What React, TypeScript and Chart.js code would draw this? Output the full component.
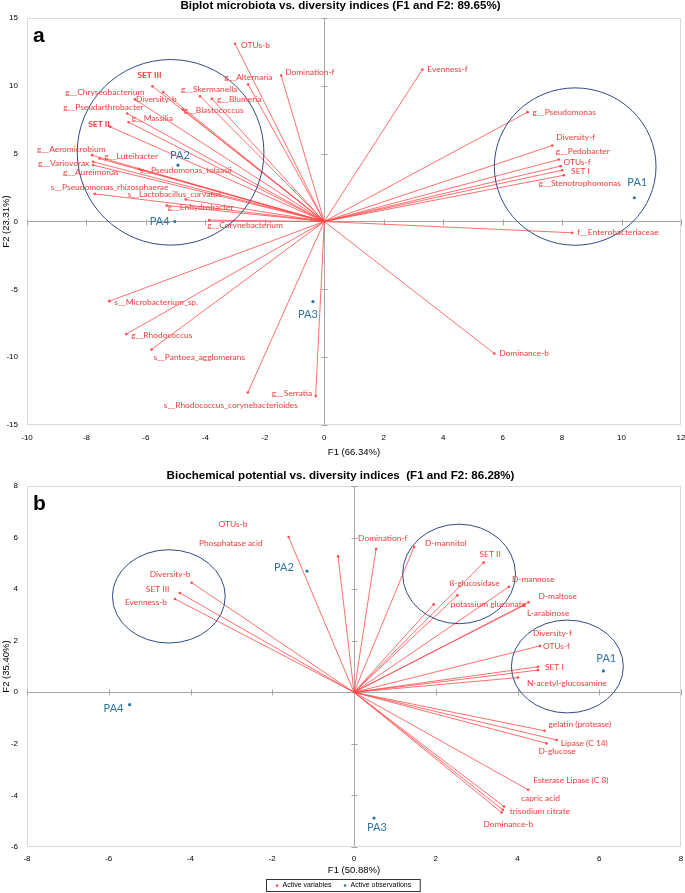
import React, { useEffect, useRef } from 'react';
import { Chart, registerables } from 'chart.js';

Chart.register(...registerables);

const AXIS_FONT = "'Liberation Sans', Arial, sans-serif";
const LABEL_FONT = "Lato, 'Noto Sans', sans-serif";
const RED_LINE = '#FF4A4A';
const RED_TEXT = '#EF3B3B';
const BLUE_OBS = '#2F74A2';
const CIRCLE_COLOR = '#2E4A87';

// ================= Panel a : microbiota =================
const aTitle = 'Biplot microbiota vs. diversity indices (F1 and F2: 89.65%)';
const aXTitle = 'F1 (66.34%)';
const aYTitle = 'F2 (23.31%)';
const aXRange = [-10, 12];
const aXStep = 2;
const aYRange = [-15, 15];
const aYStep = 5;

const aVarNames = [
  'OTUs-b', 'g__Alternaria', 'Domination-f', 'SET III', 'g__Chryseobacterium',
  'Diversity-b', 'g__Pseudarthrobacter', 'g__Massilia', 'SET II', 'g__Skermanella',
  'g__Blumeria', 'g__Blastococcus', 'g__Aeromicrobium', 'g__Variovorax', 'g__Aureimonas',
  'g__Luteibacter', 's__Pseudomonas_tolaasii', 's__Pseudomonas_rhizosphaerae',
  's__Lactobacillus_curvatus', 'g__Enhydrobacter', 'g__Corynebacterium',
  's__Microbacterium_sp.', 'g__Rhodococcus', 's__Pantoea_agglomerans', 'g__Serratia',
  's__Rhodococcus_corynebacterioides', 'Evenness-f', 'g__Pseudomonas', 'Diversity-f',
  'g__Pedobacter', 'OTUs-f', 'SET I', 'g__Stenotrophomonas', 'f__Enterobacteriaceae',
  'Dominance-b',
];
const aVarX = [
  -3.0, -2.56, -1.45, -5.78, -5.42,
  -6.37, -6.63, -6.58, -7.2, -4.18,
  -3.78, -4.76, -7.81, -7.78, -7.78,
  -7.56, -6.24, -7.72,
  -4.66, -5.3, -3.87,
  -7.23, -6.66, -5.81, -0.29,
  -2.57, 3.3, 6.84, 7.67,
  7.89, 7.95, 8.0, 8.06, 8.34,
  5.72,
];
const aVarY = [
  13.1, 10.1, 10.76, 9.97, 9.55,
  9.0, 7.96, 7.32, 6.98, 9.23,
  9.04, 8.25, 4.89, 4.4, 4.16,
  4.64, 3.88, 2.04,
  1.62, 1.18, 0.1,
  -5.87, -8.3, -9.43, -12.87,
  -12.6, 11.2, 8.06, 5.6,
  4.57, 4.08, 3.78, 3.41, -0.83,
  -9.73,
];
const aObsNames = ['PA1', 'PA2', 'PA3', 'PA4'];
const aObsX = [10.43, -4.92, -0.38, -5.03];
const aObsY = [1.75, 4.15, -5.9, 0.0];
// confidence circles: centre x, centre y, radius x, radius y (axis units)
const aEllipseCX = [-5.17, 8.44];
const aEllipseCY = [5.1, 4.05];
const aEllipseRX = [3.14, 2.72];
const aEllipseRY = [6.84, 5.8];

// label placement (pixel offsets from the point to the label's left/middle)
const aVarLabelDX = [
  6, -24, 4, -15, -98,
  1, -64, 3, -22, -19,
  5, 1, -55, -55, -30,
  5, 1, -44,
  -58, 1, -2,
  5, 5, 2, -44,
  -84, 5, 5, 4,
  -3, 3, 9, -25, 5,
  5,
];
const aVarLabelDY = [
  1, -7, -3, -11, 0,
  0, -6, -4, -3, -7,
  0, 1, -6, 1, 7,
  -2, 1, -7,
  -5, 2, 5,
  1, 1, 8, -3,
  13, 0, 0, -8,
  -8, -4, 1, 8, 0,
  0,
];
const aBoldLabels = ['SET III', 'SET II'];
const aObsLabelDX = [-7, -8, -15, -25];
const aObsLabelDY = [-15, -10, 13, 0];

// ================= Panel b : biochemical potential =================
const bTitle = 'Biochemical potential vs. diversity indices  (F1 and F2: 86.28%)';
const bXTitle = 'F1 (50.88%)';
const bYTitle = 'F2 (35.40%)';
const bXRange = [-8, 8];
const bXStep = 2;
const bYRange = [-6, 8];
const bYStep = 2;

const bVarNames = [
  'OTUs-b', 'Phosphatase acid', 'Domination-f', 'D-mannitol', 'SET II',
  'ß-glucosidase', 'potassium gluconate', 'D-mannose', 'D-maltose', 'L-arabinose',
  'Diversity-f', 'OTUs-f', 'SET I', 'N-acetyl-glucosamine', 'gelatin (protease)',
  'Lipase (C 14)', 'D-glucose', 'Esterase Lipase (C 8)', 'capric acid', 'trisodium citrate',
  'Dominance-b', 'Diversity-b', 'SET III', 'Evenness-b',
];
const bVarX = [
  -1.6, -0.39, 0.54, 1.47, 3.17,
  2.53, 1.95, 3.79, 4.27, 4.16,
  4.5, 4.55, 4.5, 4.01, 4.66,
  4.96, 4.71, 4.26, 3.67, 3.64,
  3.61, -3.97, -4.26, -4.38,
];
const bVarY = [
  6.02, 5.27, 5.56, 5.64, 5.03,
  3.76, 3.41, 4.09, 3.49, 3.37,
  0.99, 1.8, 0.86, 0.57, -1.49,
  -1.85, -1.98, -3.78, -4.43, -4.56,
  -4.66, 4.25, 3.85, 3.62,
];
const bObsNames = ['PA1', 'PA2', 'PA3', 'PA4'];
const bObsX = [6.1, -1.15, 0.49, -5.49];
const bObsY = [0.83, 4.7, -4.88, -0.48];
const bEllipseCX = [-4.53, 2.57, 5.22];
const bEllipseCY = [3.72, 4.59, 1.0];
const bEllipseRX = [1.38, 1.38, 1.37];
const bEllipseRY = [1.81, 1.93, 1.8];

const bVarLabelDX = [
  -70, -139, -18, 11, -4,
  -8, 17, 3, 10, 3,
  -5, 3, 7, 9, 4,
  4, -8, 5, 17, 7,
  -18, -42, -34, -50,
];
const bVarLabelDY = [
  -13, -13, -11, -4, -8,
  -12, 0, -8, -6, 8,
  -33, 0, -3, 6, -6,
  3, 8, -9, -8, 1,
  12, -8, -4, 3,
];
const bBoldLabels: string[] = [];
const bObsLabelDX = [-7, -33, -7, -26];
const bObsLabelDY = [-12, -4, 9, 4];

const legendNames = ['Active variables', 'Active observations'];

type Panel = {
  letter: string;
  title: string;
  xTitle: string;
  yTitle: string;
  xRange: number[];
  xStep: number;
  yRange: number[];
  yStep: number;
  varNames: string[];
  varX: number[];
  varY: number[];
  obsNames: string[];
  obsX: number[];
  obsY: number[];
  eCX: number[];
  eCY: number[];
  eRX: number[];
  eRY: number[];
  varDX: number[];
  varDY: number[];
  bold: string[];
  obsDX: number[];
  obsDY: number[];
  height: number;
  titlePad: { top: number; bottom: number };
  xAxisHeight: number;
  xTickPad: number;
  xTitlePadBottom: number;
  bottomPad: number;
  showLegend: boolean;
};

const decorPlugin = {
  id: 'biplotDecor',
  beforeDatasetsDraw(chart: any, _args: any, opts: any) {
    const { ctx, chartArea } = chart;
    const xs = chart.scales.x;
    const ys = chart.scales.y;
    ctx.save();
    // plot frame
    ctx.strokeStyle = '#D9D9D9';
    ctx.lineWidth = 1;
    ctx.strokeRect(chartArea.left + 0.5, chartArea.top + 0.5, chartArea.right - chartArea.left - 1, chartArea.bottom - chartArea.top - 1);
    // small tick marks on the zero axes
    const x0 = Math.round(xs.getPixelForValue(0)) + 0.5;
    const y0 = Math.round(ys.getPixelForValue(0)) + 0.5;
    ctx.strokeStyle = '#A6A6A6';
    ctx.beginPath();
    xs.ticks.forEach((t: any) => {
      if (t.value === 0) return;
      const px = Math.round(xs.getPixelForValue(t.value)) + 0.5;
      ctx.moveTo(px, y0 - 3);
      ctx.lineTo(px, y0 + 3);
    });
    ys.ticks.forEach((t: any) => {
      if (t.value === 0) return;
      const py = Math.round(ys.getPixelForValue(t.value)) + 0.5;
      ctx.moveTo(x0 - 3, py);
      ctx.lineTo(x0 + 3, py);
    });
    ctx.stroke();
    ctx.restore();
  },
  afterDatasetsDraw(chart: any, _args: any, opts: any) {
    const p: Panel = opts.panel;
    const { ctx, chartArea } = chart;
    const xs = chart.scales.x;
    const ys = chart.scales.y;
    ctx.save();
    // circles
    ctx.strokeStyle = CIRCLE_COLOR;
    ctx.lineWidth = 1;
    p.eCX.forEach((cx, i) => {
      const px = xs.getPixelForValue(cx);
      const py = ys.getPixelForValue(p.eCY[i]);
      const rx = Math.abs(xs.getPixelForValue(cx + p.eRX[i]) - px);
      const ry = Math.abs(ys.getPixelForValue(p.eCY[i] + p.eRY[i]) - py);
      ctx.beginPath();
      ctx.ellipse(px, py, rx, ry, 0, 0, Math.PI * 2);
      ctx.stroke();
    });
    // variable labels
    ctx.textBaseline = 'middle';
    ctx.textAlign = 'left';
    ctx.fillStyle = RED_TEXT;
    p.varNames.forEach((name, i) => {
      const px = xs.getPixelForValue(p.varX[i]);
      const py = ys.getPixelForValue(p.varY[i]);
      ctx.font = (p.bold.includes(name) ? 'bold ' : '') + '8.4px ' + LABEL_FONT;
      ctx.fillText(name, px + p.varDX[i], py + p.varDY[i]);
    });
    // observation labels
    ctx.fillStyle = BLUE_OBS;
    ctx.font = '11px ' + LABEL_FONT;
    p.obsNames.forEach((name, i) => {
      const px = xs.getPixelForValue(p.obsX[i]);
      const py = ys.getPixelForValue(p.obsY[i]);
      ctx.fillText(name, px + p.obsDX[i], py + p.obsDY[i]);
    });
    // panel letter
    ctx.fillStyle = '#000';
    ctx.font = 'bold 21px ' + AXIS_FONT;
    ctx.fillText(p.letter, chartArea.left + 6, chartArea.top + 18);
    ctx.restore();
  },
  afterDraw(chart: any, _args: any, opts: any) {
    const p: Panel = opts.panel;
    if (!p.showLegend) return;
    const { ctx } = chart;
    ctx.save();
    ctx.font = '7px ' + AXIS_FONT;
    ctx.textBaseline = 'middle';
    ctx.textAlign = 'left';
    const colors = [RED_LINE, BLUE_OBS];
    const widths = legendNames.map((t) => ctx.measureText(t).width);
    const itemW = widths.map((w) => 3 + 4 + w);
    const gap = 12;
    const padX = 9;
    const total = itemW[0] + itemW[1] + gap + padX * 2;
    const left = Math.round(chart.width / 2 - total / 2) + 0.5;
    const top = chart.height - 13.5;
    ctx.strokeStyle = '#333';
    ctx.lineWidth = 1;
    ctx.strokeRect(left, top, total, 12);
    let cx = left + padX;
    const cy = top + 6;
    legendNames.forEach((t, i) => {
      ctx.fillStyle = colors[i];
      ctx.beginPath();
      ctx.arc(cx + 1.5, cy, 1.3, 0, Math.PI * 2);
      ctx.fill();
      ctx.fillStyle = '#000';
      ctx.fillText(t, cx + 7, cy);
      cx += itemW[i] + gap;
    });
    ctx.restore();
  },
};

function zeroOnly(c: any) {
  return c.tick && c.tick.value === 0 ? '#A6A6A6' : 'rgba(0,0,0,0)';
}

function buildConfig(p: Panel): any {
  const vectors: any[] = [];
  p.varX.forEach((x, i) => {
    vectors.push({ x: 0, y: 0 }, { x, y: p.varY[i] }, { x: null, y: null });
  });
  return {
    type: 'scatter',
    data: {
      datasets: [
        {
          label: 'vectors',
          data: vectors,
          showLine: true,
          spanGaps: false,
          borderColor: RED_LINE,
          borderWidth: 0.8,
          pointRadius: 0,
          pointHoverRadius: 0,
          order: 3,
        },
        {
          label: legendNames[0],
          data: p.varX.map((x, i) => ({ x, y: p.varY[i] })),
          pointStyle: 'circle',
          pointRadius: 1.3,
          backgroundColor: RED_LINE,
          borderColor: RED_LINE,
          borderWidth: 0,
          order: 2,
        },
        {
          label: legendNames[1],
          data: p.obsX.map((x, i) => ({ x, y: p.obsY[i] })),
          pointStyle: 'circle',
          pointRadius: 1.6,
          backgroundColor: BLUE_OBS,
          borderColor: BLUE_OBS,
          borderWidth: 0,
          order: 1,
        },
      ],
    },
    options: {
      responsive: false,
      animation: false,
      events: [],
      layout: { padding: { left: 0, right: 4, top: 0, bottom: p.bottomPad } },
      scales: {
        x: {
          type: 'linear',
          position: 'bottom',
          min: p.xRange[0],
          max: p.xRange[1],
          afterFit: (s: any) => {
            s.height = p.xAxisHeight;
            s.paddingLeft = 0;
            s.paddingRight = 0;
          },
          ticks: {
            stepSize: p.xStep,
            autoSkip: false,
            maxRotation: 0,
            padding: p.xTickPad,
            font: { size: 8, family: AXIS_FONT },
            color: '#000',
          },
          grid: { color: zeroOnly, drawTicks: false, lineWidth: 1 },
          border: { display: false },
          title: {
            display: true,
            text: p.xTitle,
            font: { size: 9.5, family: AXIS_FONT },
            color: '#000',
            padding: { top: 0, bottom: p.xTitlePadBottom },
          },
        },
        y: {
          type: 'linear',
          position: 'left',
          min: p.yRange[0],
          max: p.yRange[1],
          afterFit: (s: any) => {
            s.width = 27;
            s.paddingTop = 0;
            s.paddingBottom = 0;
          },
          ticks: {
            stepSize: p.yStep,
            autoSkip: false,
            padding: 9,
            font: { size: 8, family: AXIS_FONT },
            color: '#000',
          },
          grid: { color: zeroOnly, drawTicks: false, lineWidth: 1 },
          border: { display: false },
          title: {
            display: true,
            text: p.yTitle,
            font: { size: 9.5, family: AXIS_FONT },
            color: '#000',
            padding: { top: 1, bottom: 0 },
          },
        },
      },
      plugins: {
        legend: { display: false },
        tooltip: { enabled: false },
        title: {
          display: true,
          text: p.title,
          font: { size: 11.6, weight: 'bold', family: AXIS_FONT },
          color: '#000',
          padding: p.titlePad,
        },
        biplotDecor: { panel: p },
      },
    },
    plugins: [decorPlugin],
  };
}

const panelA: Panel = {
  letter: 'a',
  title: aTitle,
  xTitle: aXTitle,
  yTitle: aYTitle,
  xRange: aXRange,
  xStep: aXStep,
  yRange: aYRange,
  yStep: aYStep,
  varNames: aVarNames,
  varX: aVarX,
  varY: aVarY,
  obsNames: aObsNames,
  obsX: aObsX,
  obsY: aObsY,
  eCX: aEllipseCX,
  eCY: aEllipseCY,
  eRX: aEllipseRX,
  eRY: aEllipseRY,
  varDX: aVarLabelDX,
  varDY: aVarLabelDY,
  bold: aBoldLabels,
  obsDX: aObsLabelDX,
  obsDY: aObsLabelDY,
  height: 462,
  titlePad: { top: -1.6, bottom: 5.7 },
  xAxisHeight: 37,
  xTickPad: 8,
  xTitlePadBottom: 4.3,
  bottomPad: 0,
  showLegend: false,
};

const panelB: Panel = {
  letter: 'b',
  title: bTitle,
  xTitle: bXTitle,
  yTitle: bYTitle,
  xRange: bXRange,
  xStep: bXStep,
  yRange: bYRange,
  yStep: bYStep,
  varNames: bVarNames,
  varX: bVarX,
  varY: bVarY,
  obsNames: bObsNames,
  obsX: bObsX,
  obsY: bObsY,
  eCX: bEllipseCX,
  eCY: bEllipseCY,
  eRX: bEllipseRX,
  eRY: bEllipseRY,
  varDX: bVarLabelDX,
  varDY: bVarLabelDY,
  bold: bBoldLabels,
  obsDX: bObsLabelDX,
  obsDY: bObsLabelDY,
  height: 431,
  titlePad: { top: 7.0, bottom: 3.1 },
  xAxisHeight: 30,
  xTickPad: 7,
  xTitlePadBottom: 1,
  bottomPad: 16,
  showLegend: true,
};

function Biplot({ panel }: { panel: Panel }) {
  const ref = useRef<HTMLCanvasElement>(null);
  useEffect(() => {
    if (!ref.current) return;
    const chart = new Chart(ref.current, buildConfig(panel));
    return () => chart.destroy();
  }, [panel]);
  return (
    <canvas
      ref={ref}
      width={685}
      height={panel.height}
      style={{ display: 'block', width: 685, height: panel.height }}
    />
  );
}

export default function App() {
  return (
    <div
      style={{
        position: 'fixed',
        left: 0,
        top: 0,
        width: 685,
        height: 893,
        overflow: 'hidden',
        background: '#fff',
      }}
    >
      <Biplot panel={panelA} />
      <Biplot panel={panelB} />
    </div>
  );
}
